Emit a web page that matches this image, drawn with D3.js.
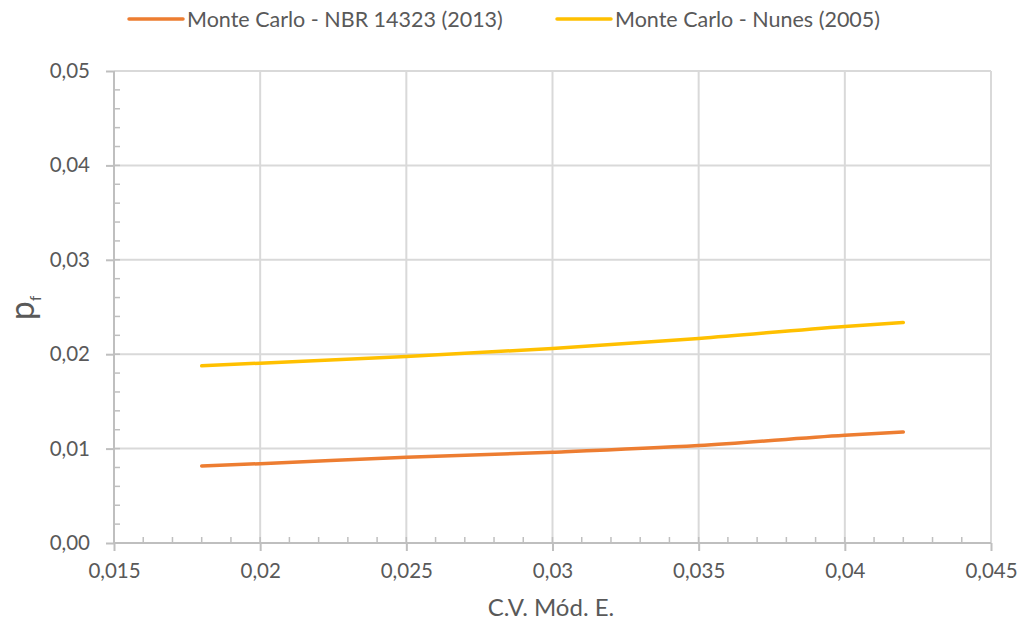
<!DOCTYPE html>
<html>
<head>
<meta charset="utf-8">
<script src="https://cdn.jsdelivr.net/npm/d3@7"></script>
<style>
  body { margin: 0; background: #fff; }
  text { font-family: Lato, "Open Sans", sans-serif; fill: #595959; }
</style>
</head>
<body>
<svg id="chart" width="1022" height="626"></svg>
<script>
// C.V. of modulus of elasticity (x) vs probability of failure (pf)
var cvValues = [0.018, 0.02, 0.025, 0.03, 0.035, 0.04, 0.042];
var pfNbr = [0.00816, 0.0084, 0.00909, 0.00962, 0.01032, 0.01142, 0.01177];
var pfNunes = [0.01877, 0.01905, 0.01976, 0.0206, 0.02167, 0.02294, 0.02336];
var seriesNames = ["Monte Carlo - NBR 14323 (2013)", "Monte Carlo - Nunes (2005)"];
var seriesColors = ["#ED7D31", "#FFC000"];
var xTicks = [0.015, 0.02, 0.025, 0.03, 0.035, 0.04, 0.045];
var xTickLabels = ["0,015", "0,02", "0,025", "0,03", "0,035", "0,04", "0,045"];
var yTicks = [0, 0.01, 0.02, 0.03, 0.04, 0.05];
var yTickLabels = ["0,00", "0,01", "0,02", "0,03", "0,04", "0,05"];

var svg = d3.select("#chart");
var plotL = 114, plotR = 991, plotT = 71, plotB = 543;

var x = d3.scaleLinear().domain([0.015, 0.045]).range([plotL, plotR]);
var y = d3.scaleLinear().domain([0, 0.05]).range([plotB, plotT]);

// gridlines
svg.append("g").selectAll("line").data(xTicks.slice(1)).enter().append("line")
    .attr("x1", function(d) { return x(d); }).attr("x2", function(d) { return x(d); })
    .attr("y1", plotT).attr("y2", plotB)
    .style("stroke", "#d9d9d9").style("stroke-width", 2);
svg.append("g").selectAll("line").data(yTicks.slice(1)).enter().append("line")
    .attr("x1", plotL).attr("x2", plotR)
    .attr("y1", function(d) { return y(d); }).attr("y2", function(d) { return y(d); })
    .style("stroke", "#d9d9d9").style("stroke-width", 2);

// minor ticks (inside)
var xMinor = d3.range(0.016, 0.0449, 0.001);
svg.append("g").selectAll("line").data(xMinor).enter().append("line")
    .attr("x1", function(d) { return x(d); }).attr("x2", function(d) { return x(d); })
    .attr("y1", plotB).attr("y2", plotB - 6)
    .style("stroke", "#bfbfbf").style("stroke-width", 1.5);
var yMinor = d3.range(0.002, 0.0499, 0.002);
svg.append("g").selectAll("line").data(yMinor).enter().append("line")
    .attr("x1", plotL).attr("x2", plotL + 6)
    .attr("y1", function(d) { return y(d); }).attr("y2", function(d) { return y(d); })
    .style("stroke", "#bfbfbf").style("stroke-width", 1.5);

// axes
var xAxis = d3.axisBottom(x).tickValues(xTicks).tickSize(8).tickPadding(12)
    .tickFormat(function(d, i) { return xTickLabels[i]; });
var gx = svg.append("g").attr("transform", "translate(0," + plotB + ")").call(xAxis);
var yAxis = d3.axisLeft(y).tickValues(yTicks).tickSize(8).tickPadding(16)
    .tickFormat(function(d, i) { return yTickLabels[i]; });
var gy = svg.append("g").attr("transform", "translate(" + plotL + ",0)").call(yAxis);
[gx, gy].forEach(function(g) {
    g.select(".domain").style("stroke", "#bfbfbf").style("stroke-width", 2);
    g.selectAll(".tick line").style("stroke", "#bfbfbf").style("stroke-width", 2);
    g.selectAll(".tick text").style("font-size", "20.5px").style("fill", "#595959")
        .style("font-family", "Lato, 'Open Sans', sans-serif");
});
gx.select(".domain").attr("d", "M" + plotL + ",0H" + plotR);
gy.select(".domain").attr("d", "M0," + plotB + "V" + plotT);

// series
var line = d3.line()
    .x(function(d) { return x(d[0]); })
    .y(function(d) { return y(d[1]); })
    .curve(d3.curveMonotoneX);
[pfNbr, pfNunes].forEach(function(vals, i) {
    svg.append("path")
        .datum(cvValues.map(function(c, j) { return [c, vals[j]]; }))
        .attr("d", line)
        .style("fill", "none")
        .style("stroke", seriesColors[i])
        .style("stroke-width", 3.5)
        .style("stroke-linecap", "round");
});

// axis titles
svg.append("text").attr("x", 551).attr("y", 616)
    .attr("text-anchor", "middle").style("font-size", "24px").text("C.V. Mód. E.");
var yt = svg.append("text").attr("transform", "translate(34,308) rotate(-90)")
    .attr("text-anchor", "middle").style("font-size", "34px");
yt.append("tspan").text("p");
yt.append("tspan").attr("dy", 7).style("font-size", "15px").text("f");

// legend
var legendX = [129, 557];
seriesNames.forEach(function(name, i) {
    var lg = svg.append("g").attr("transform", "translate(" + legendX[i] + ",19)");
    lg.append("line").attr("x1", 0).attr("x2", 54).attr("y1", 0).attr("y2", 0)
        .style("stroke", seriesColors[i]).style("stroke-width", 3.5).style("stroke-linecap", "round");
    lg.append("text").attr("x", 58).attr("y", 7.5).style("font-size", "21.5px").text(name);
});
</script>
</body>
</html>
